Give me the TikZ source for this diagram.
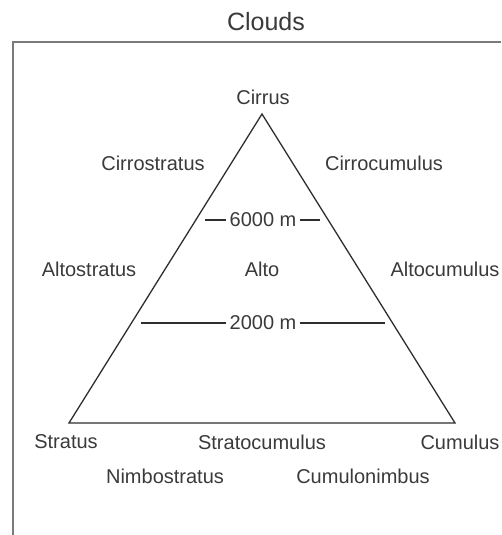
\documentclass[tikz,border=0pt]{standalone}
\usepackage{fontspec}
\setmainfont{Liberation Sans}
\usepackage{tikz}
\definecolor{cldText}{HTML}{3A3A3A}
\definecolor{cldLine}{HTML}{2E2E2E}
\definecolor{cldFrame}{HTML}{7A7A7A}

\begin{document}
\begin{tikzpicture}[
  x=1pt, y=-1pt,
  lbl/.style={font=\fontsize{20}{24}\selectfont, text=cldText, inner sep=0pt},
  lvl/.style={lbl, inner sep=3pt},
  ttl/.style={font=\fontsize{25}{30}\selectfont, text=cldText, inner sep=0pt},
  edge/.style={draw=cldLine, line width=1.3pt, line join=miter},
  lvlline/.style={draw=cldLine, line width=1.2pt},
]
\useasboundingbox (0,0) rectangle (501,535);

% frame (cut off at right and bottom)
\draw[cldFrame, line width=1.6pt] (13,535) -- (13,42) -- (501,42);
\node[ttl] (title) at (266,22) {Clouds};

% triangle
\coordinate (top) at (262,114);
\coordinate (bl)  at (69,423);
\coordinate (br)  at (455,423);
\draw[edge] (top) -- (bl) -- (br) -- cycle;

% height levels
\node[lvl] (h6) at (263,220) {6000 m};
\coordinate (h6l) at (205,220);
\coordinate (h6r) at (320,220);
\draw[lvlline] (h6l) -- (h6.west);
\draw[lvlline] (h6.east) -- (h6r);

\node[lvl] (h2) at (263,323) {2000 m};
\coordinate (h2l) at (141,323);
\coordinate (h2r) at (385,323);
\draw[lvlline] (h2l) -- (h2.west);
\draw[lvlline] (h2.east) -- (h2r);

% cloud names
\node[lbl] (cirrus)  at (263,97)  {Cirrus};
\node[lbl] (cirrost) at (153,163) {Cirrostratus};
\node[lbl] (cirrocu) at (384,163) {Cirrocumulus};
\node[lbl] (altost)  at (89,269)  {Altostratus};
\node[lbl] (alto)    at (262,269) {Alto};
\node[lbl] (altocu)  at (445,269) {Altocumulus};
\node[lbl] (stratus) at (66,442)  {Stratus};
\node[lbl] (stratcu) at (262,442) {Stratocumulus};
\node[lbl] (cumulus) at (460,442) {Cumulus};
\node[lbl] (nimbo)   at (165,476) {Nimbostratus};
\node[lbl] (cumnim)  at (363,476) {Cumulonimbus};

\end{tikzpicture}
\end{document}
